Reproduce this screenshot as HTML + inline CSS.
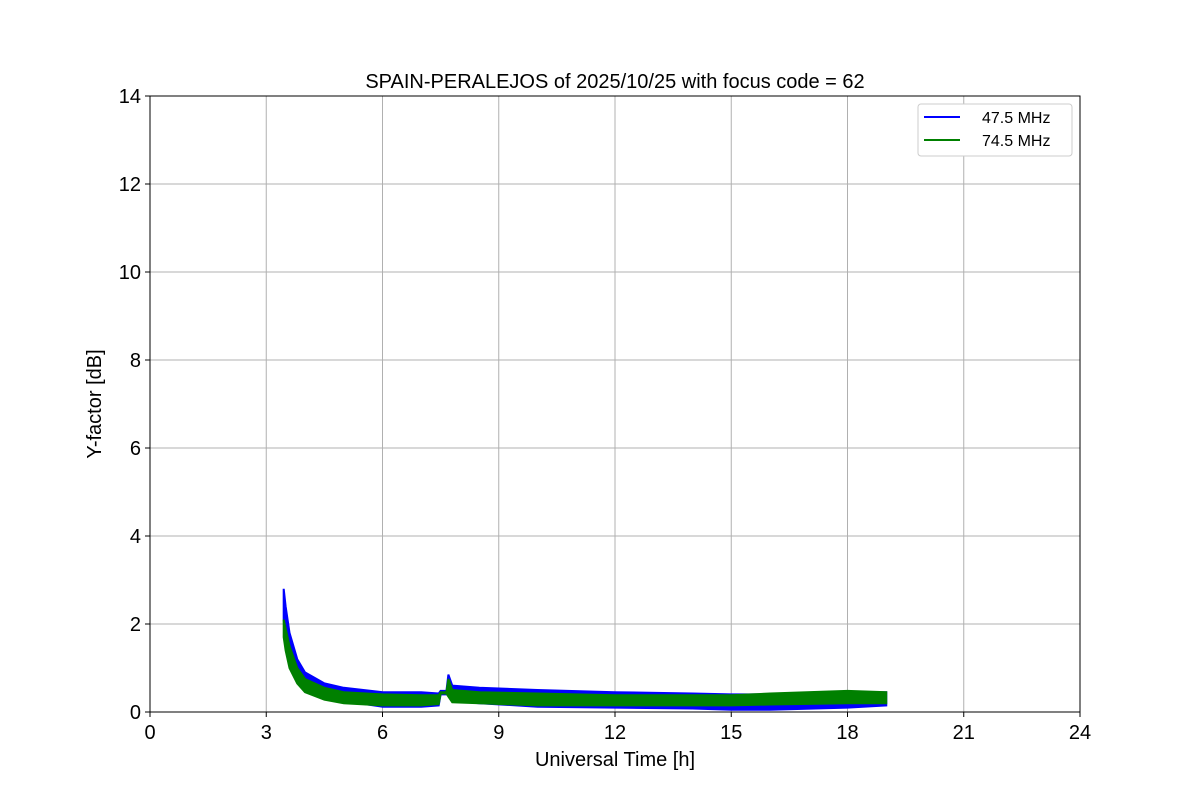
<!DOCTYPE html>
<html><head><meta charset="utf-8"><style>
body{margin:0;background:#fff;}
svg text{font-family:"Liberation Sans","DejaVu Sans",sans-serif;fill:#000;}
</style></head><body>
<svg id="chart" width="1200" height="800">
<rect width="1200" height="800" fill="#fff"/>
<g id="grid"></g><g id="series"></g><g id="axes"></g>
<text x="615" y="88" font-size="20" text-anchor="middle">SPAIN-PERALEJOS of 2025/10/25 with focus code = 62</text>
<text x="615" y="766" font-size="20" text-anchor="middle">Universal Time [h]</text>
<text x="101" y="404" font-size="20" text-anchor="middle" transform="rotate(-90 101 404)">Y-factor [dB]</text>
<g>
<rect x="918" y="104" width="154" height="52" rx="3" fill="#fff" stroke="#ccc"/>
<line x1="924" y1="117" x2="960" y2="117" stroke="#0000ff" stroke-width="2"/>
<text x="982" y="123" font-size="16">47.5 MHz</text>
<line x1="924" y1="140" x2="960" y2="140" stroke="#008000" stroke-width="2"/>
<text x="982" y="146" font-size="16">74.5 MHz</text>
</g>
</svg>
<script>
const xTicks=[0,3,6,9,12,15,18,21,24];
const yTicks=[0,2,4,6,8,10,12,14];
const blueT=[3.45,3.5,3.6,3.8,4,4.5,5,6,7,7.45,7.5,7.65,7.7,7.8,8.5,10,12,14,15,16,18,19];
const blueHi=[2.8,2.4,1.8,1.2,0.9,0.65,0.55,0.45,0.45,0.42,0.48,0.48,0.85,0.6,0.55,0.5,0.45,0.42,0.4,0.4,0.45,0.45];
const blueLo=[2.1,1.6,1.2,0.8,0.55,0.35,0.25,0.12,0.12,0.15,0.4,0.4,0.4,0.25,0.2,0.12,0.1,0.08,0.05,0.05,0.1,0.15];
const greenT=[3.45,3.5,3.6,3.8,4,4.5,5,6,7,7.45,7.5,7.65,7.7,7.8,8.5,10,12,14,15,16,18,19];
const greenHi=[2.1,1.9,1.5,1.0,0.75,0.55,0.45,0.4,0.38,0.38,0.45,0.45,0.75,0.5,0.45,0.42,0.38,0.38,0.38,0.42,0.48,0.45];
const greenLo=[1.7,1.4,1.0,0.65,0.45,0.28,0.2,0.15,0.15,0.18,0.42,0.42,0.35,0.22,0.2,0.15,0.15,0.15,0.15,0.17,0.2,0.2];
const L=150,R=1080,T=96,B=712;
const xs=v=>L+(R-L)*v/24, ys=v=>B-(B-T)*v/14;
const NS='http://www.w3.org/2000/svg';
function mk(tag,attrs,parent){const e=document.createElementNS(NS,tag);for(const k in attrs)e.setAttribute(k,attrs[k]);parent.appendChild(e);return e;}
const grid=document.getElementById('grid'),axes=document.getElementById('axes'),ser=document.getElementById('series');
xTicks.forEach(t=>{
 const g=mk('line',{x1:xs(t),x2:xs(t),y1:T,y2:B,stroke:'#b0b0b0','stroke-width':1},grid);
 
 
 mk('line',{x1:xs(t),x2:xs(t),y1:B,y2:B+5,stroke:'#000'},axes);
 const tx=mk('text',{x:xs(t),y:B+27,'font-size':20,'text-anchor':'middle'},axes);tx.textContent=t;
 
 
});
yTicks.forEach(t=>{
 const g=mk('line',{x1:L,x2:R,y1:ys(t),y2:ys(t),stroke:'#b0b0b0','stroke-width':1},grid);
 
 
 mk('line',{x1:L-5,x2:L,y1:ys(t),y2:ys(t),stroke:'#000'},axes);
 const tx=mk('text',{x:L-9,y:ys(t)+7,'font-size':20,'text-anchor':'end'},axes);tx.textContent=t;
 
 
});
const fr=mk('rect',{x:L,y:T,width:R-L,height:B-T,fill:'none',stroke:'#000','stroke-width':1},axes);


function band(t,hi,lo,color,name){
 let pts=t.map((v,i)=>xs(v)+','+ys(hi[i]));
 for(let i=t.length-1;i>=0;i--)pts.push(xs(t[i])+','+ys(lo[i]));
 const p=mk('polygon',{points:pts.join(' '),fill:color,stroke:color,'stroke-width':2},ser);
 
 
}
band(blueT,blueHi,blueLo,'#0000ff','series-47-5-mhz');
band(greenT,greenHi,greenLo,'#008000','series-74-5-mhz');
</script>
</body></html>
